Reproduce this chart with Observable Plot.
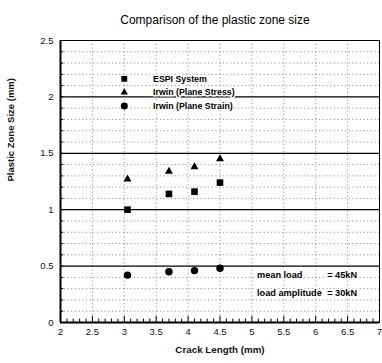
<!DOCTYPE html>
<html>
<head>
<meta charset="utf-8">
<script src="https://cdn.jsdelivr.net/npm/d3@7"></script>
<script src="https://cdn.jsdelivr.net/npm/@observablehq/plot@0.6"></script>
<style>
  html, body { margin: 0; padding: 0; background: #fff; }
  svg { display: block; }
</style>
</head>
<body>
<div id="chart"></div>
<script>
// ---- data ----
const crackLength = [3.05, 3.7, 4.1, 4.5];
const espiSystem = [1.0, 1.14, 1.16, 1.24];
const irwinPlaneStress = [1.27, 1.34, 1.38, 1.45];
const irwinPlaneStrain = [0.42, 0.45, 0.46, 0.48];

const seriesNames = ["ESPI System", "Irwin (Plane Stress)", "Irwin (Plane Strain)"];
const seriesSymbols = ["square", "triangle", "circle"];
const legendY = [2.16, 2.04, 1.92];

const xTickLabels = [2, 2.5, 3, 3.5, 4, 4.5, 5, 5.5, 6, 6.5, 7];
const yTickLabels = [0, 0.5, 1, 1.5, 2, 2.5];

const noteLabels = ["mean load", "load amplitude"];
const noteValues = ["= 45kN", "= 30kN"];
const noteY = [0.42, 0.26];

// ---- derived tables ----
const seriesValues = [espiSystem, irwinPlaneStress, irwinPlaneStrain];
const points = seriesValues.flatMap((vals, i) =>
  vals.map((v, j) => ({x: crackLength[j], y: v, series: seriesNames[i], symbol: seriesSymbols[i]})));
const legend = seriesNames.map((name, i) => ({name, symbol: seriesSymbols[i], y: legendY[i]}));
const notes = noteLabels.map((t, i) => ({label: t, value: noteValues[i], y: noteY[i]}));

const yMinor = d3.range(0, 26).map(i => i / 10);
const yFine = yMinor.filter(v => Math.round(v * 10) % 5 !== 0);
const xMinor = d3.range(20, 71).map(i => i / 10);
const xMajorInner = xTickLabels.filter(v => v > 2 && v < 7);

const font = "Liberation Sans, Arial, Helvetica, sans-serif";
const sizeBy = {square: 4.1, triangle: 2.6, circle: 4.1};
const legendSize = {square: 3.2, triangle: 2.2, circle: 3.6};
const fmt = d => String(d);

const chart = Plot.plot({
  width: 382,
  height: 363,
  marginLeft: 60,
  marginRight: 3,
  marginTop: 40,
  marginBottom: 41,
  style: {fontFamily: font, background: "#fff", overflow: "visible"},
  x: {domain: [2, 7]},
  y: {domain: [0, 2.5]},
  marks: [
    // dotted grid
    Plot.ruleY(yFine, {stroke: "#777", strokeWidth: 0.8, strokeDasharray: "1.2,2.5"}),
    Plot.ruleX(xMajorInner, {stroke: "#777", strokeWidth: 0.8, strokeDasharray: "1.2,2.5"}),
    // solid grid
    Plot.ruleY(yTickLabels.filter(v => v > 0), {stroke: "#000", strokeWidth: 1.2}),
    // ticks (inward)
    Plot.ruleX(xMinor, {x: d => d, y1: 0, y2: d => (Math.round(d * 10) % 5 === 0 ? 0.055 : 0.03), stroke: "#000", strokeWidth: 1}),
    Plot.ruleY(yMinor, {y: d => d, x1: 2, x2: 2.05, stroke: "#000", strokeWidth: 1}),
    // axes
    Plot.axisX(xTickLabels, {tickSize: 0, tickPadding: 6, fontSize: 9.5, fill: "#111", label: null, tickFormat: fmt}),
    Plot.axisY(yTickLabels, {tickSize: 0, tickPadding: 7, fontSize: 9.5, fill: "#111", label: null, tickFormat: fmt}),
    // frame
    Plot.frame({stroke: "#000", strokeWidth: 1}),
    Plot.ruleX([2], {stroke: "#000", strokeWidth: 2}),
    Plot.ruleY([0], {stroke: "#000", strokeWidth: 2}),
    // data points
    Plot.dot(points, {x: "x", y: "y", symbol: "symbol", r: d => sizeBy[d.symbol], fill: "#000", stroke: "none"}),
    // legend
    Plot.dot(legend, {x: 3.0, y: "y", symbol: "symbol", r: d => legendSize[d.symbol], fill: "#000", stroke: "none"}),
    Plot.text(legend, {x: 3.45, y: "y", text: "name", textAnchor: "start", fontSize: 8.8, fontWeight: "bold", fill: "#000", stroke: "#fff", strokeWidth: 3}),
    // annotation
    Plot.text(notes, {x: 5.08, y: "y", text: "label", textAnchor: "start", fontSize: 9.2, fontWeight: "bold", fill: "#000", stroke: "#fff", strokeWidth: 3}),
    Plot.text(notes, {x: 6.18, y: "y", text: "value", textAnchor: "start", fontSize: 9.2, fontWeight: "bold", fill: "#000", stroke: "#fff", strokeWidth: 3}),
    // title and axis labels
    Plot.text(["Comparison of the plastic zone size"], {frameAnchor: "top", dy: -25, dx: -5, fontSize: 12, fill: "#000"}),
    Plot.text(["Crack Length (mm)"], {frameAnchor: "bottom", dy: 30, fontSize: 9.8, fontWeight: "bold", fill: "#111"}),
    Plot.text(["Plastic Zone Size (mm)"], {frameAnchor: "left", dx: -50, rotate: -90, fontSize: 9.5, fontWeight: "bold", fill: "#111"})
  ]
});
document.getElementById("chart").appendChild(chart);
</script>
</body>
</html>
